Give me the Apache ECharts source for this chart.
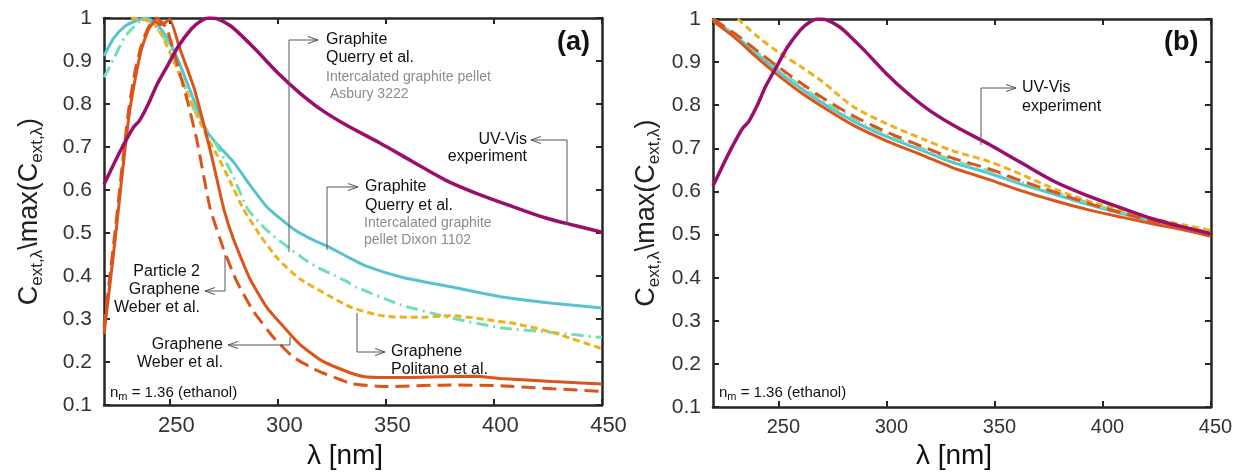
<!DOCTYPE html>
<html>
<head>
<meta charset="utf-8">
<title>Normalised extinction spectra</title>
<script src="https://cdn.jsdelivr.net/npm/echarts@6/dist/echarts.min.js"></script>
<style>
  html, body { margin: 0; padding: 0; background: #fff; }
  #chart { width: 1238px; height: 475px; }
</style>
</head>
<body>
<div id="chart"></div>
<script>
// wavelength [nm] / normalised C_ext values

// panel (a)
var expX = [219.5, 224, 228, 233, 236, 240, 244, 249, 254, 260, 264, 268, 272, 278, 284, 290, 300, 310, 320, 332, 347, 362, 378, 393, 409, 424, 437, 450];
var expY = [0.613, 0.66, 0.70, 0.745, 0.762, 0.80, 0.845, 0.89, 0.935, 0.975, 0.992, 1.0, 0.998, 0.982, 0.955, 0.925, 0.872, 0.826, 0.787, 0.75, 0.71, 0.667, 0.622, 0.59, 0.561, 0.535, 0.518, 0.502];

var asburyX = [219.5, 224, 229, 234, 239, 244, 248.5, 253, 261, 267, 273, 279.5, 287, 295, 300, 307, 315, 323, 334, 340, 357, 380, 403, 427, 450];
var asburyY = [0.912, 0.953, 0.98, 0.993, 1.0, 0.985, 0.955, 0.912, 0.81, 0.737, 0.70, 0.665, 0.612, 0.56, 0.538, 0.51, 0.487, 0.469, 0.44, 0.425, 0.398, 0.375, 0.352, 0.337, 0.326];

var dixonX = [219.5, 224, 229, 233, 238, 241, 245, 249, 254, 260, 265, 271, 279, 286, 293, 298, 305, 312, 318, 326, 332, 336, 357, 380, 403, 427, 450];
var dixonY = [0.862, 0.905, 0.955, 0.978, 0.998, 0.99, 0.97, 0.94, 0.88, 0.80, 0.755, 0.71, 0.635, 0.556, 0.516, 0.493, 0.466, 0.44, 0.421, 0.402, 0.387, 0.375, 0.333, 0.303, 0.28, 0.269, 0.257];

var politanoX = [232, 237, 242, 246, 250, 256, 262, 267, 272, 278, 284, 292, 300, 310, 323, 334, 349, 365, 380, 396, 411, 427, 450];
var politanoY = [1.0, 0.997, 0.99, 0.962, 0.92, 0.85, 0.78, 0.725, 0.68, 0.619, 0.556, 0.493, 0.44, 0.394, 0.356, 0.327, 0.307, 0.304, 0.308, 0.299, 0.288, 0.269, 0.231];

var weberX = [219.5, 222, 225, 228, 231, 234, 237, 240, 243, 245.5, 248, 250, 254.5, 261, 265.5, 270, 275, 279.4, 287, 295, 303, 310, 320, 334, 340, 357, 375, 391, 403, 427, 450];
var weberY = [0.265, 0.37, 0.5, 0.64, 0.77, 0.86, 0.93, 0.972, 0.993, 0.985, 0.99, 0.997, 0.93, 0.84, 0.756, 0.664, 0.555, 0.486, 0.394, 0.326, 0.28, 0.242, 0.204, 0.174, 0.166, 0.164, 0.166, 0.167, 0.162, 0.155, 0.149];

var weber2X = [219.5, 222, 225, 228, 231, 234, 237, 240, 243.8, 248.5, 253, 258, 262.4, 268.6, 274.8, 281, 288.7, 298, 307, 318, 334, 349, 380, 403, 427, 450];
var weber2Y = [0.28, 0.39, 0.52, 0.66, 0.79, 0.88, 0.94, 0.978, 1.0, 0.976, 0.90, 0.809, 0.718, 0.558, 0.463, 0.387, 0.318, 0.257, 0.212, 0.181, 0.15, 0.143, 0.147, 0.145, 0.138, 0.132];

// panel (b)
var bX = [219.5, 230, 240, 250, 260, 270, 285, 300, 316, 330, 347, 362, 378, 393, 409, 424, 438, 450];
var weberB = [0.995, 0.955, 0.91, 0.868, 0.83, 0.797, 0.752, 0.717, 0.685, 0.656, 0.628, 0.602, 0.578, 0.558, 0.54, 0.524, 0.51, 0.496];
var asburyB = [1.0, 0.96, 0.918, 0.877, 0.84, 0.806, 0.762, 0.727, 0.696, 0.668, 0.643, 0.617, 0.593, 0.57, 0.548, 0.53, 0.515, 0.503];
var dixonB = [1.0, 0.963, 0.922, 0.882, 0.845, 0.811, 0.767, 0.732, 0.70, 0.673, 0.648, 0.622, 0.598, 0.574, 0.551, 0.532, 0.517, 0.505];
var weber2B = [1.0, 0.965, 0.926, 0.888, 0.852, 0.818, 0.774, 0.738, 0.705, 0.678, 0.653, 0.625, 0.598, 0.573, 0.55, 0.53, 0.515, 0.503];
var politanoBX = [231, 240, 250, 260, 270, 285, 300, 316, 330, 347, 362, 378, 393, 409, 424, 438, 450];
var politanoB = [1.0, 0.96, 0.922, 0.89, 0.855, 0.795, 0.757, 0.723, 0.695, 0.67, 0.64, 0.605, 0.578, 0.555, 0.536, 0.522, 0.51];

var FONT = '"Liberation Sans", Arial, Helvetica, sans-serif';
var C_EXP = '#9b0f6c', C_CYAN = '#58c2cf', C_GREEN = '#70e0b4', C_YEL = '#edb120', C_ORA = '#dd541a';

function zip(xs, ys) {
    return xs.map(function (x, i) { return [x, ys[i]]; });
}

function line(name, xs, ys, idx, color, type, smooth, width) {
    return {
        name: name,
        type: 'line',
        xAxisIndex: idx * 2,
        yAxisIndex: idx * 2,
        data: zip(xs, ys),
        showSymbol: false,
        smooth: smooth,
        clip: true,
        lineStyle: { color: color, width: width || 3, type: type },
        silent: true
    };
}

var axisCol = '#262626';

function xAxes(grid, pad, size) {
    var common = {
        gridIndex: grid, type: 'value', min: 219.5, max: 450,
        axisLine: { onZero: false, lineStyle: { color: axisCol, width: 2.5 } },
        axisTick: { inside: true, length: 6, lineStyle: { color: axisCol, width: 2 } },
        splitLine: { show: false }
    };
    return [
        Object.assign({}, common, {
            position: 'bottom',
            axisLabel: {
                showMinLabel: false, margin: 10, fontSize: size, color: '#333', fontFamily: FONT,
                padding: [0, 0, 0, pad],
                formatter: function (v) { return v % 50 === 0 ? String(v) : ''; }
            },
            name: 'λ [nm]', nameLocation: 'middle', nameGap: 34,
            nameTextStyle: { fontSize: 28, color: '#111', fontFamily: FONT, padding: [0, 16, 0, 0] }
        }),
        Object.assign({}, common, { position: 'top', axisLabel: { show: false } })
    ];
}

function yAxes(grid, gap) {
    var common = {
        gridIndex: grid, type: 'value', min: 0.1, max: 1, interval: 0.1,
        axisLine: { onZero: false, lineStyle: { color: axisCol, width: 2.5 } },
        axisTick: { inside: true, length: 6, lineStyle: { color: axisCol, width: 2 } },
        splitLine: { show: false }
    };
    return [
        Object.assign({}, common, {
            position: 'left',
            axisLabel: {
                margin: 12, fontSize: 21, color: '#333', fontFamily: FONT,
                formatter: function (v) { return String(parseFloat(v.toFixed(1))); }
            },
            name: '{m|C}{s|ext,λ}{m|\\max(C}{s|ext,λ}{m|)}',
            nameLocation: 'middle', nameRotate: 90, nameGap: gap,
            nameTextStyle: {
                color: '#222', fontFamily: FONT, fontSize: 27,
                rich: {
                    m: { fontSize: 27, lineHeight: 32, color: '#222', fontFamily: FONT },
                    s: { fontSize: 17, lineHeight: 12, verticalAlign: 'bottom', color: '#222', fontFamily: FONT }
                }
            }
        }),
        Object.assign({}, common, { position: 'right', axisLabel: { show: false } })
    ];
}

// leader line with an open arrow head at its last point
function leader(pts) {
    var n = pts.length, tip = pts[n - 1], prev = pts[n - 2];
    var dx = tip[0] - prev[0], dy = tip[1] - prev[1], len = Math.sqrt(dx * dx + dy * dy);
    var ux = dx / len, uy = dy / len, L = 10, W = 3.5;
    var bx = tip[0] - ux * L, by = tip[1] - uy * L;
    var head = [[bx - uy * W, by + ux * W], tip, [bx + uy * W, by - ux * W]];
    var st = { stroke: '#555', lineWidth: 1, fill: null };
    return [
        { type: 'polyline', shape: { points: pts }, style: st, silent: true, z: 100 },
        { type: 'polyline', shape: { points: head }, style: st, silent: true, z: 100 }
    ];
}

function txt(x, y, s, opts) {
    opts = opts || {};
    return {
        type: 'text', x: x, y: y, silent: true, z: 100,
        style: {
            text: s, fill: opts.fill || '#111', fontSize: opts.size || 16, fontFamily: FONT,
            fontWeight: opts.weight || 'normal',
            align: opts.align || 'left', verticalAlign: 'middle', rich: opts.rich
        }
    };
}

var GRAY = '#8c8c8c';
var nmRich = { a: { fontSize: 15, fill: '#111', fontFamily: FONT, lineHeight: 18 }, b: { fontSize: 11, fill: '#111', fontFamily: FONT, lineHeight: 8, verticalAlign: 'bottom' } };

var graphics = [].concat(
    // panel (a)
    leader([[289, 252], [289, 40], [318, 40]]),
    [txt(326, 40, 'Graphite'), txt(326, 58, 'Querry et al.'),
     txt(326, 77, 'Intercalated graphite pellet', { fill: GRAY, size: 14 }),
     txt(326, 94, ' Asbury 3222', { fill: GRAY, size: 14 })],
    leader([[567, 225], [567, 140], [531, 140]]),
    [txt(527, 140, 'UV-Vis', { align: 'right' }), txt(527, 157, 'experiment', { align: 'right' })],
    leader([[327, 250], [327, 187], [358, 187]]),
    [txt(365, 187, 'Graphite'), txt(365, 206, 'Querry et al.'),
     txt(364, 223, 'Intercalated graphite', { fill: GRAY, size: 14 }),
     txt(364, 240, 'pellet Dixon 1102', { fill: GRAY, size: 14 })],
    leader([[225, 255], [225, 291], [205, 291]]),
    [txt(200, 272, 'Particle 2', { align: 'right' }), txt(200, 290, 'Graphene', { align: 'right' }),
     txt(200, 308, 'Weber et al.', { align: 'right' })],
    leader([[290, 337], [290, 345], [228, 345]]),
    [txt(223, 345, 'Graphene', { align: 'right' }), txt(223, 363, 'Weber et al.', { align: 'right' })],
    leader([[357, 313], [357, 352], [385, 352]]),
    [txt(391, 352, 'Graphene'), txt(391, 370, 'Politano et al.')],
    [txt(110, 393, '{a|n}{b|m}{a| = 1.36 (ethanol)}', { rich: nmRich }),
     txt(557, 43, '(a)', { size: 27, weight: 'bold' })],
    // panel (b)
    leader([[981, 145], [981, 88], [1016, 88]]),
    [txt(1022, 88, 'UV-Vis'), txt(1022, 107, 'experiment')],
    [txt(719, 393, '{a|n}{b|m}{a| = 1.36 (ethanol)}', { rich: nmRich }),
     txt(1164, 43, '(b)', { size: 27, weight: 'bold' })]
);

var chart = echarts.init(document.getElementById('chart'), null, { renderer: 'canvas' });

var option = {
    backgroundColor: '#fff',
    animation: false,
    textStyle: { fontFamily: FONT },
    grid: [
        { left: 104, top: 18, width: 498, height: 394 },
        { left: 713, top: 19, width: 498, height: 394 }
    ],
    xAxis: xAxes(0, 13, 22).concat(xAxes(1, 9, 20)),
    yAxis: yAxes(0, 58).concat(yAxes(1, 50)),
    series: [
        line('Graphite Querry (Asbury 3222)', asburyX, asburyY, 0, C_CYAN, 'solid', 0.2),
        line('Graphite Querry (Dixon 1102)', dixonX, dixonY, 0, C_GREEN, [12, 5, 2, 5], 0.2),
        line('Graphene Politano', politanoX, politanoY, 0, C_YEL, [7, 4], 0.2),
        line('Particle 2 Graphene Weber', weber2X, weber2Y, 0, C_ORA, [14, 7], 0.15),
        line('Graphene Weber', weberX, weberY, 0, C_ORA, 'solid', 0.15),
        line('UV-Vis experiment', expX, expY, 0, C_EXP, 'solid', 0.3, 3.5),

        line('Graphite Querry (Asbury 3222)', bX, asburyB, 1, C_CYAN, 'solid', 0.3),
        line('Graphite Querry (Dixon 1102)', bX, dixonB, 1, C_GREEN, [12, 5, 2, 5], 0.3),
        line('Graphene Politano', politanoBX, politanoB, 1, C_YEL, [7, 4], 0.3),
        line('Particle 2 Graphene Weber', bX, weber2B, 1, C_ORA, [14, 7], 0.3),
        line('Graphene Weber', bX, weberB, 1, C_ORA, 'solid', 0.3),
        line('UV-Vis experiment', expX, expY, 1, C_EXP, 'solid', 0.3, 3.5)
    ],
    graphic: graphics
};

chart.setOption(option);
</script>
</body>
</html>
